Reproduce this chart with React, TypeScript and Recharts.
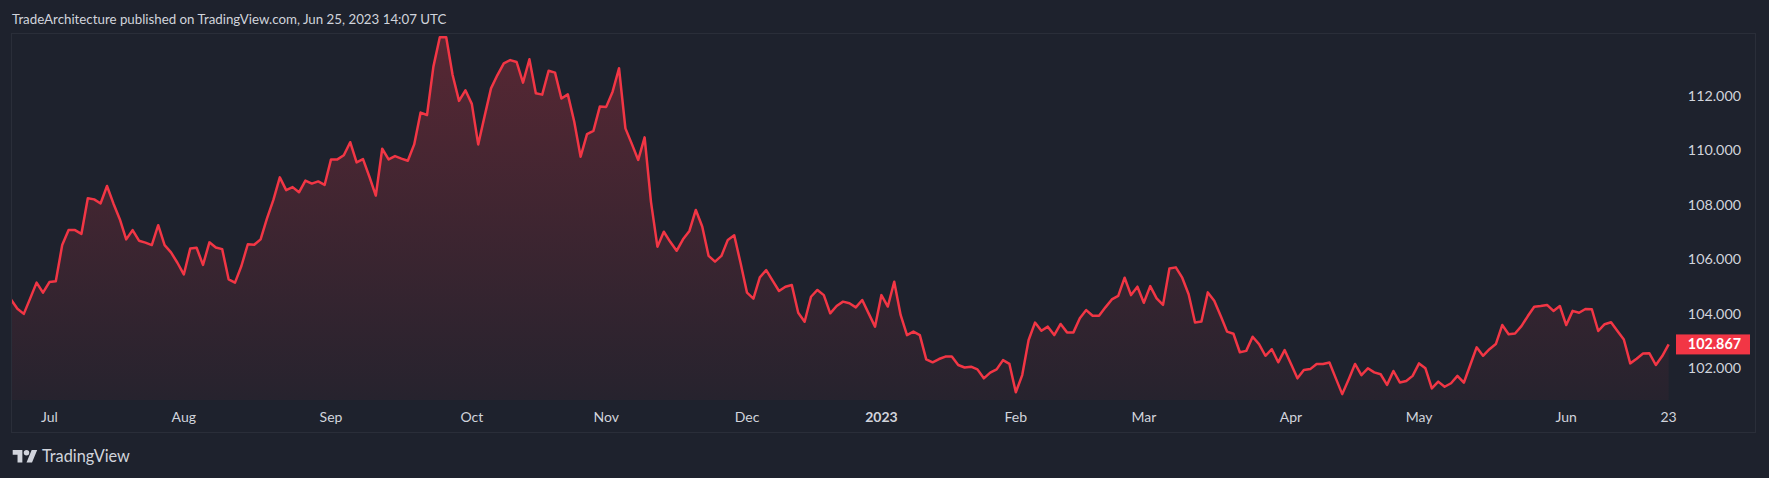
import React from 'react';
import { ComposedChart, Area, XAxis, YAxis, ReferenceLine } from 'recharts';

// Daily closes (index 0 = first bar, last bar = Jun 23, 2023)
const values: number[] = [
  104.52, 104.18, 103.99, 104.56, 105.14, 104.77, 105.16, 105.19, 106.52, 107.07, 107.07, 106.93, 108.24, 108.20, 108.05, 108.69, 108.05, 107.47, 106.73, 107.07, 106.68, 106.61, 106.52, 107.25, 106.52, 106.25, 105.87, 105.44, 106.39, 106.42, 105.79, 106.62, 106.43, 106.37,
  105.26, 105.14, 105.75, 106.55, 106.53, 106.73, 107.50, 108.18, 109.01, 108.54, 108.65, 108.46, 108.89, 108.78, 108.86, 108.73, 109.67, 109.67, 109.82, 110.30, 109.56, 109.68, 109.03, 108.34, 110.06, 109.67, 109.79, 109.70, 109.62, 110.22, 111.39, 111.30, 113.08,
  114.16, 114.16, 112.77, 111.82, 112.21, 111.71, 110.22, 111.26, 112.28, 112.77, 113.20, 113.32, 113.25, 112.49, 113.35, 112.10, 112.05, 112.93, 112.86, 111.91, 112.06, 111.06, 109.77, 110.60, 110.72, 111.61, 111.60, 112.16, 113.02, 110.81, 110.24, 109.65, 110.48,
  108.10, 106.46, 107.01, 106.64, 106.31, 106.73, 107.04, 107.81, 107.20, 106.12, 105.91, 106.12, 106.71, 106.88, 105.85, 104.77, 104.55, 105.33, 105.60, 105.21, 104.83, 104.99, 105.05, 104.03, 103.70, 104.62, 104.87, 104.68, 104.01, 104.28, 104.44, 104.38, 104.23,
  104.50, 104.01, 103.52, 104.68, 104.26, 105.17, 103.95, 103.21, 103.34, 103.21, 102.32, 102.21, 102.33, 102.42, 102.42, 102.11, 102.02, 102.05, 101.95, 101.62, 101.83, 101.95, 102.29, 102.15, 101.11, 101.74, 103.03, 103.67, 103.37, 103.52, 103.21, 103.62, 103.31,
  103.31, 103.83, 104.13, 103.92, 103.92, 104.23, 104.52, 104.65, 105.32, 104.68, 104.99, 104.40, 105.01, 104.56, 104.32, 105.66, 105.70, 105.32, 104.71, 103.67, 103.71, 104.78, 104.47, 103.92, 103.34, 103.26, 102.58, 102.63, 103.15, 102.88, 102.45, 102.69, 102.21,
  102.66, 102.15, 101.62, 101.93, 101.96, 102.15, 102.15, 102.20, 101.62, 101.04, 101.58, 102.15, 101.74, 101.99, 101.84, 101.77, 101.38, 101.89, 101.47, 101.52, 101.71, 102.17, 101.99, 101.25, 101.50, 101.31, 101.44, 101.71, 101.46, 102.11, 102.76, 102.45, 102.69,
  102.88, 103.58, 103.24, 103.27, 103.54, 103.91, 104.25, 104.28, 104.32, 104.10, 104.28, 103.58, 104.10, 104.03, 104.17, 104.16, 103.36, 103.61, 103.68, 103.36, 103.05, 102.17, 102.34, 102.53, 102.54, 102.11, 102.44, 102.867,
];

// Time-axis ticks (bar index of each label) and their labels
const timeTicks: number[] = [6, 27, 50, 72, 93, 115, 136, 157, 177, 200, 220, 243, 259];
const timeLabels: string[] = ['Jul', 'Aug', 'Sep', 'Oct', 'Nov', 'Dec', '2023', 'Feb', 'Mar', 'Apr', 'May', 'Jun', '23'];
const boldLabels: string[] = ['2023'];

// Price-axis ticks
const priceTicks: number[] = [102, 104, 106, 108, 110, 112];
const priceDomain: number[] = [100.824, 114.316];
const timeDomain: number[] = [0, 260.15];

const titleText = 'TradeArchitecture published on TradingView.com, Jun 25, 2023 14:07 UTC';

const lastValue = values[values.length - 1];
const data = values.map((v, i) => ({ i, v }));

const W = 1769;
const H = 478;
const BG = '#1e222d';
const TEXT = '#d1d4dc';
const RED = '#f23645';
const FONT = 'Lato, "Noto Sans", sans-serif';

function TimeTick(props: any) {
  const { x, payload } = props;
  const idx = timeTicks.indexOf(payload.value);
  const label = idx >= 0 ? timeLabels[idx] : '';
  return (
    <text
      x={x}
      y={422}
      textAnchor="middle"
      fill={TEXT}
      fontSize={14}
      fontFamily={FONT}
      fontWeight={boldLabels.includes(label) ? 700 : 400}
    >
      {label}
    </text>
  );
}

function PriceTick(props: any) {
  const { y, payload } = props;
  return (
    <text x={1741} y={y + 5} textAnchor="end" fill={TEXT} fontSize={14.3} fontFamily={FONT}>
      {payload.value.toFixed(3)}
    </text>
  );
}

function PriceLabel(props: any) {
  const vb = props.viewBox || {};
  const x0 = (vb.x || 0) + (vb.width || 0);
  const y0 = vb.y || 0;
  return (
    <g>
      <rect x={x0} y={y0 - 10} width={74} height={20} fill={RED} />
      <text
        x={1741}
        y={y0 + 5}
        textAnchor="end"
        fill="#ffffff"
        fontSize={14.3}
        fontWeight={700}
        fontFamily={FONT}
      >
        {lastValue.toFixed(3)}
      </text>
    </g>
  );
}

export default function App() {
  return (
    <div
      style={{
        position: 'absolute',
        left: 0,
        top: 0,
        width: W,
        height: H,
        background: BG,
        overflow: 'hidden',
        fontFamily: FONT,
      }}
    >
      <ComposedChart
        width={W}
        height={H}
        data={data}
        margin={{ top: 33, left: 11, right: 13, bottom: 45 }}
      >
        <defs>
          <linearGradient id="areaFill" x1="0" y1="0" x2="0" y2="1">
            <stop offset="0%" stopColor={RED} stopOpacity={0.27} />
            <stop offset="100%" stopColor={RED} stopOpacity={0.04} />
          </linearGradient>
        </defs>
        <XAxis
          dataKey="i"
          type="number"
          domain={timeDomain}
          allowDataOverflow
          ticks={timeTicks}
          interval={0}
          axisLine={false}
          tickLine={false}
          height={33}
          tick={<TimeTick />}
        />
        <YAxis
          orientation="right"
          type="number"
          domain={priceDomain}
          allowDataOverflow
          ticks={priceTicks}
          interval={0}
          axisLine={false}
          tickLine={false}
          width={80}
          tick={<PriceTick />}
        />
        <Area
          type="linear"
          dataKey="v"
          stroke={RED}
          strokeWidth={2.5}
          strokeLinejoin="round"
          fill="url(#areaFill)"
          fillOpacity={1}
          dot={false}
          activeDot={false}
          isAnimationActive={false}
        />
        <ReferenceLine y={lastValue} stroke="none" ifOverflow="visible" label={<PriceLabel />} />
      </ComposedChart>

      <svg
        width={W}
        height={H}
        style={{ position: 'absolute', left: 0, top: 0, pointerEvents: 'none' }}
      >
        <rect x={11.5} y={33.5} width={1744} height={399} fill="none" stroke="#2a2e39" strokeWidth={1} />
        <text x={12} y={24} fill={TEXT} fontSize={13.3} fontFamily={FONT}>
          {titleText}
        </text>
        <g transform="translate(12.7,447.2) scale(0.69)" fill={TEXT}>
          <path d="M14 22H7V11H0V4h14v18zM28 22h-8l7.5-18h8L28 22z" />
          <circle cx={20} cy={8} r={4} />
        </g>
        <text x={42} y={462} fill={TEXT} fontSize={16.3} fontFamily={FONT}>
          TradingView
        </text>
      </svg>
    </div>
  );
}
